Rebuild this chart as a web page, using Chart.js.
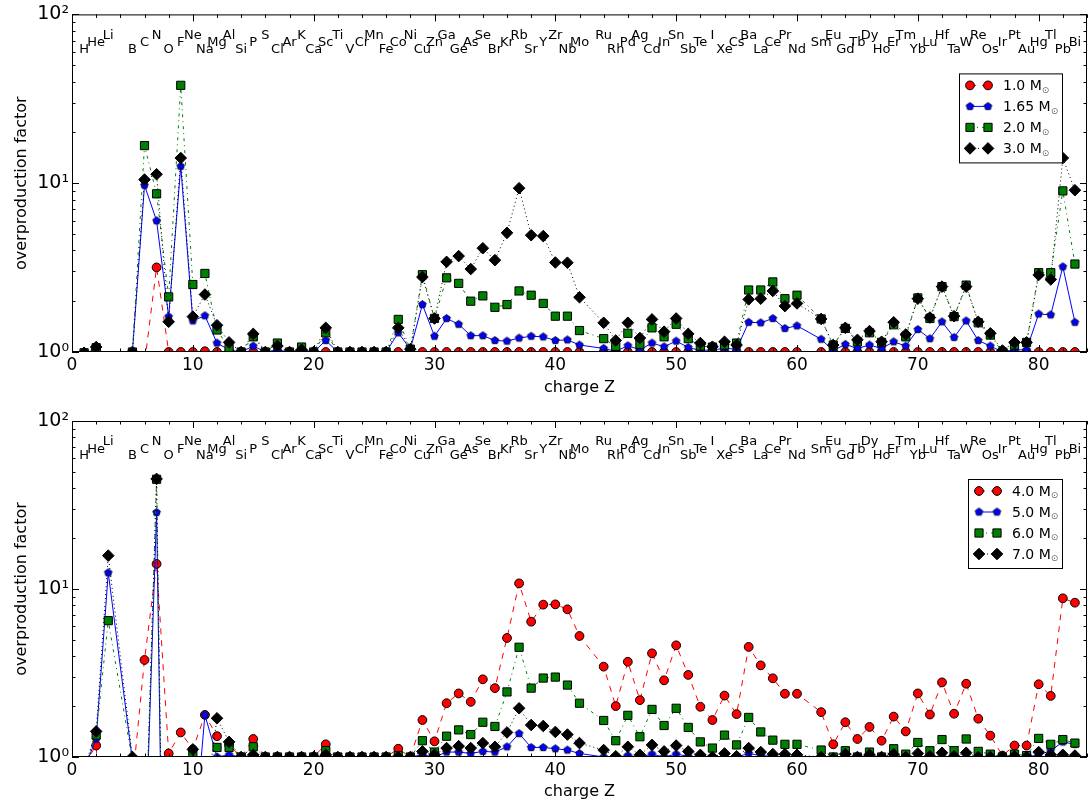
<!DOCTYPE html>
<html lang="en">
<head>
<meta charset="UTF-8">
<title>Overproduction factors</title>
<script src="https://cdn.jsdelivr.net/npm/chart.js"></script>
<style>
  * { margin: 0; padding: 0; }
  body { background: #fff; width: 1088px; height: 808px; overflow: hidden; position: relative; }
  canvas { position: absolute; left: 0; }
  #chartTop { top: 0; }
  #chartBottom { top: 404px; }
</style>
</head>
<body>
<canvas id="chartTop" width="1088" height="404"></canvas>
<canvas id="chartBottom" width="1088" height="404"></canvas>
<script>
// element symbols and their charge Z (Be, Tc and Pm are not in the network output)
const elements = ['H','He','Li','B','C','N','O','F','Ne','Na',
  'Mg','Al','Si','P','S','Cl','Ar','K','Ca','Sc',
  'Ti','V','Cr','Mn','Fe','Co','Ni','Cu','Zn','Ga',
  'Ge','As','Se','Br','Kr','Rb','Sr','Y','Zr','Nb',
  'Mo','Ru','Rh','Pd','Ag','Cd','In','Sn','Sb','Te',
  'I','Xe','Cs','Ba','La','Ce','Pr','Nd','Sm','Eu',
  'Gd','Tb','Dy','Ho','Er','Tm','Yb','Lu','Hf','Ta',
  'W','Re','Os','Ir','Pt','Au','Hg','Tl','Pb','Bi'];
const charge = [1,2,3,5,6,7,8,9,10,11,
  12,13,14,15,16,17,18,19,20,21,
  22,23,24,25,26,27,28,29,30,31,
  32,33,34,35,36,37,38,39,40,41,
  42,44,45,46,47,48,49,50,51,52,
  53,54,55,56,57,58,59,60,62,63,
  64,65,66,67,68,69,70,71,72,73,
  74,75,76,77,78,79,80,81,82,83];

// low-mass models
const massesTop = ['1.0', '1.65', '2.0', '3.0'];
const m10 = [0.99,1.02,0.001,0.5,0.85,3.17,1.0,1.0,1.0,1.01,
  1.0,1.0,1.0,1.0,1.0,1.0,1.0,1.0,1.0,1.0,
  1.0,1.0,1.0,1.0,1.0,1.0,1.0,1.0,1.0,1.0,
  1.0,1.0,1.0,1.0,1.0,1.0,1.0,1.0,1.0,1.0,
  1.0,1.0,1.0,1.0,1.0,1.0,1.0,1.0,1.0,1.0,
  1.0,1.0,1.0,1.0,1.0,1.0,1.0,1.0,1.0,1.0,
  1.0,1.0,1.0,1.0,1.0,1.0,1.0,1.0,1.0,1.0,
  1.0,1.0,1.0,1.0,1.0,1.0,1.0,1.0,1.0,1.0];
const m165 = [0.99,1.03,0.001,1.0,9.73,5.99,1.62,12.6,1.53,1.64,
  1.13,1.03,1.0,1.085,1.0,1.03,1.0,1.03,1.0,1.17,
  1.0,1.0,1.0,1.0,1.0,1.30,1.04,1.91,1.24,1.58,
  1.46,1.25,1.25,1.17,1.16,1.21,1.24,1.23,1.17,1.18,
  1.10,1.05,1.01,1.09,1.03,1.13,1.075,1.16,1.065,1.02,
  1.03,1.05,1.04,1.50,1.49,1.58,1.38,1.43,1.19,1.02,
  1.11,1.05,1.10,1.05,1.15,1.085,1.36,1.20,1.51,1.22,
  1.53,1.17,1.085,1.0,1.03,1.03,1.68,1.66,3.20,1.50];
const m20 = [0.99,1.06,0.001,1.0,16.7,8.65,2.12,38.0,2.51,2.92,
  1.35,1.05,1.0,1.23,1.0,1.13,1.0,1.07,1.0,1.30,
  1.0,1.0,1.0,1.0,1.0,1.56,1.04,2.87,1.58,2.75,
  2.55,2.00,2.15,1.84,1.91,2.30,2.17,1.94,1.63,1.63,
  1.34,1.20,1.08,1.29,1.11,1.39,1.23,1.46,1.20,1.085,
  1.07,1.10,1.13,2.33,2.33,2.60,2.07,2.17,1.57,1.10,
  1.38,1.15,1.30,1.14,1.45,1.23,2.09,1.58,2.44,1.62,
  2.49,1.49,1.26,1.0,1.10,1.14,2.95,2.95,9.0,3.32];
const m30 = [0.99,1.07,0.001,1.0,10.5,11.3,1.51,14.1,1.62,2.19,
  1.44,1.14,1.0,1.28,1.0,1.085,1.0,1.03,1.0,1.39,
  1.0,1.0,1.0,1.0,1.0,1.39,1.04,2.78,1.58,3.42,
  3.70,3.10,4.12,3.50,5.08,9.34,4.92,4.86,3.39,3.38,
  2.11,1.49,1.17,1.49,1.21,1.56,1.32,1.58,1.28,1.13,
  1.075,1.15,1.10,2.05,2.07,2.30,1.87,1.94,1.57,1.10,
  1.39,1.18,1.33,1.15,1.50,1.27,2.07,1.60,2.44,1.63,
  2.44,1.51,1.29,1.02,1.14,1.14,2.86,2.69,14.1,9.09];

// intermediate-mass models
const massesBottom = ['4.0', '5.0', '6.0', '7.0'];
const m40 = [0.9,1.17,0.05,0.7,3.78,14.1,1.05,1.40,1.11,1.78,
  1.33,1.18,1.0,1.28,1.0,1.0,1.0,1.0,1.0,1.19,
  1.0,1.0,1.0,1.0,1.0,1.12,1.0,1.66,1.24,2.09,
  2.39,2.13,2.90,2.57,5.11,10.8,6.39,8.07,8.10,7.57,
  5.25,3.45,2.01,3.69,2.18,4.14,2.86,4.62,3.08,1.99,
  1.66,2.32,1.80,4.52,3.51,2.94,2.38,2.38,1.85,1.19,
  1.61,1.28,1.51,1.25,1.74,1.42,2.39,1.79,2.78,1.81,
  2.73,1.69,1.34,1.02,1.17,1.17,2.71,2.31,8.80,8.29];
const m50 = [0.85,1.28,12.5,0.95,0.2,28.6,0.0005,0.0005,0.26,1.78,
  1.0,1.03,1.0,1.0,1.0,1.0,1.0,1.0,1.0,1.02,
  1.0,1.0,1.0,1.0,1.0,1.0,1.0,1.03,1.0,1.07,
  1.07,1.05,1.08,1.07,1.15,1.38,1.14,1.14,1.12,1.10,
  1.05,1.0,1.0,1.02,1.0,1.04,1.0,1.04,1.01,1.0,
  1.0,1.01,1.0,1.05,1.02,1.01,1.01,1.01,1.0,1.0,
  1.0,1.0,1.0,1.0,1.0,1.0,1.0,1.0,1.0,1.0,
  1.0,1.0,1.0,1.0,1.0,1.0,1.03,1.09,1.23,1.19];
const m60 = [0.85,1.35,6.48,0.95,0.2,45.0,0.0005,0.0005,1.03,0.5,
  1.14,1.14,1.0,1.15,1.0,1.0,1.0,1.0,1.0,1.09,
  1.0,1.0,1.0,1.0,1.0,1.02,1.0,1.25,1.07,1.33,
  1.45,1.36,1.61,1.52,2.44,4.50,2.57,2.95,2.99,2.68,
  2.09,1.65,1.25,1.77,1.32,1.92,1.54,1.95,1.50,1.23,
  1.13,1.35,1.18,1.72,1.41,1.26,1.19,1.19,1.10,1.0,
  1.09,1.0,1.07,1.0,1.12,1.04,1.22,1.09,1.27,1.09,
  1.28,1.08,1.04,1.0,1.04,1.02,1.29,1.19,1.27,1.21];
const m70 = [0.85,1.42,15.8,1.0,0.2,45.2,0.0005,0.0005,1.11,0.5,
  1.70,1.23,1.0,1.03,1.0,1.0,1.0,1.0,1.0,1.03,
  1.0,1.0,1.0,1.0,1.0,1.0,1.0,1.08,1.03,1.13,
  1.16,1.13,1.21,1.15,1.40,1.95,1.55,1.53,1.41,1.36,
  1.21,1.10,1.01,1.15,1.03,1.18,1.08,1.17,1.08,1.03,
  1.0,1.05,1.01,1.13,1.07,1.04,1.04,1.03,1.0,0.98,
  1.04,1.0,1.03,1.0,1.04,1.0,1.05,1.01,1.06,1.01,
  1.06,1.0,1.0,1.0,1.01,1.0,1.07,1.03,1.03,1.02];

// rows of the element symbols along the top, in data units
const symbolRows = [62, 68, 75];

const FONT = '"DejaVu Sans", "Bitstream Vera Sans", sans-serif';
Chart.defaults.font.family = FONT;
Chart.defaults.color = '#000';

function pentagon(color, r) {
  const c = document.createElement('canvas');
  const s = Math.ceil(2 * r + 3);
  c.width = c.height = s;
  const g = c.getContext('2d');
  g.beginPath();
  for (let k = 0; k < 5; k++) {
    const a = -Math.PI / 2 + k * 2 * Math.PI / 5;
    const px = s / 2 + r * Math.cos(a), py = s / 2 + r * Math.sin(a);
    if (k) g.lineTo(px, py); else g.moveTo(px, py);
  }
  g.closePath();
  g.fillStyle = color;
  g.fill();
  g.lineWidth = 0.8;
  g.strokeStyle = '#000';
  g.stroke();
  return c;
}

// line and marker style per series slot (same in both panels)
const styles = [
  { color: '#ff0000', dash: [6, 6], point: 'circle', radius: 4.4 },
  { color: '#0000ff', dash: [], point: pentagon('#0000ff', 4), radius: 4 },
  { color: '#008000', dash: [3, 4, 1, 4], point: 'rect', radius: 5.8 },
  { color: '#000000', dash: [1, 3], point: 'rectRot', radius: 5.8 }
];

function makeDatasets(series) {
  return series.map((vals, i) => ({
    data: charge.map((z, k) => ({ x: z, y: vals[k] })),
    borderColor: styles[i].color,
    borderWidth: 1,
    borderDash: styles[i].dash,
    pointStyle: styles[i].point,
    pointRadius: styles[i].radius,
    pointBackgroundColor: styles[i].color,
    pointBorderColor: '#000',
    pointBorderWidth: 1,
    tension: 0,
    fill: false,
    order: 4 - i
  }));
}

function logLabel(v) {
  if (v === 1) return '10\u2070';
  if (v === 10) return '10\u00b9';
  if (v === 100) return '10\u00b2';
  return '';
}

// frame, inward ticks, element symbols and legend
const decorations = {
  id: 'decorations',
  afterDraw(chart, args, opts) {
    const { ctx, chartArea: a } = chart;
    const xs = chart.scales.x, ys = chart.scales.y;
    ctx.save();
    ctx.strokeStyle = '#000';
    ctx.lineWidth = 1;
    ctx.strokeRect(a.left + 0.5, a.top + 0.5, a.right - a.left - 1, a.bottom - a.top - 1);

    ctx.beginPath();
    for (let v = 0; v <= 84; v += 2) {
      const px = Math.round(xs.getPixelForValue(v)) + 0.5;
      const len = v % 10 === 0 ? 7 : 3.5;
      ctx.moveTo(px, a.bottom); ctx.lineTo(px, a.bottom - len);
      ctx.moveTo(px, a.top); ctx.lineTo(px, a.top + len);
    }
    for (let d = 1; d <= 100; d *= 10) {
      for (let m = 1; m <= 9; m++) {
        const v = d * m;
        if (v > 100) break;
        const py = Math.round(ys.getPixelForValue(v)) + 0.5;
        const len = m === 1 ? 7 : 3.5;
        ctx.moveTo(a.left, py); ctx.lineTo(a.left + len, py);
        ctx.moveTo(a.right, py); ctx.lineTo(a.right - len, py);
      }
    }
    ctx.stroke();

    // element symbols
    ctx.fillStyle = '#000';
    ctx.font = '13px ' + FONT;
    ctx.textAlign = 'center';
    ctx.textBaseline = 'middle';
    elements.forEach((el, i) => {
      ctx.fillText(el, xs.getPixelForValue(charge[i]), ys.getPixelForValue(symbolRows[i % 3]));
    });

    // legend
    ctx.font = '14px ' + FONT;
    ctx.textAlign = 'left';
    const tw = Math.max(...opts.masses.map(m => ctx.measureText(m + ' M').width));
    const w = Math.round(44 + tw + 11), h = 89;
    const x0 = Math.round(a.right - 25 - w), y0 = a.top + opts.top;
    ctx.fillStyle = '#fff';
    ctx.fillRect(x0, y0, w, h);
    ctx.strokeRect(x0 + 0.5, y0 + 0.5, w, h);
    chart.data.datasets.forEach((ds, i) => {
      const y = y0 + 12 + i * 21;
      ctx.setLineDash(ds.borderDash);
      ctx.strokeStyle = ds.borderColor;
      ctx.beginPath();
      ctx.moveTo(x0 + 11, y); ctx.lineTo(x0 + 29, y);
      ctx.stroke();
      ctx.setLineDash([]);
      [x0 + 11, x0 + 29].forEach(px => {
        ctx.fillStyle = ds.pointBackgroundColor;
        ctx.strokeStyle = '#000';
        ctx.lineWidth = 1;
        Chart.helpers.drawPoint(ctx, { pointStyle: ds.pointStyle, radius: ds.pointRadius, rotation: 0, borderWidth: 1 }, px, y);
      });
      ctx.fillStyle = '#000';
      ctx.font = '14px ' + FONT;
      const txt = opts.masses[i] + ' M';
      ctx.fillText(txt, x0 + 44, y + 1);
      const tx = x0 + 44 + ctx.measureText(txt).width;
      ctx.font = '9px ' + FONT;
      ctx.fillStyle = '#666';
      ctx.fillText('\u2299', tx, y + 5);
    });
    ctx.restore();
  }
};

function makeChart(id, series, masses, padTop, xHeight, legendTop) {
  return new Chart(document.getElementById(id), {
    type: 'line',
    data: { datasets: makeDatasets(series) },
    options: {
      responsive: false,
      animation: false,
      devicePixelRatio: 1,
      events: [],
      layout: { autoPadding: false, padding: { left: 0, right: 1, top: padTop, bottom: 0 } },
      plugins: {
        legend: { display: false },
        tooltip: { enabled: false },
        decorations: { masses: masses, top: legendTop }
      },
      scales: {
        x: {
          type: 'linear', min: 0, max: 84,
          grid: { display: false, drawTicks: false },
          border: { display: false },
          ticks: { stepSize: 10, includeBounds: false, padding: 3, font: { size: 17 }, color: '#000' },
          title: { display: true, text: 'charge Z', font: { size: 16 }, color: '#000', padding: { top: 0, bottom: 7 } },
          afterFit(s) { s.height = xHeight; }
        },
        y: {
          type: 'logarithmic', min: 1, max: 100,
          grid: { display: false, drawTicks: false },
          border: { display: false },
          ticks: { autoSkip: false, padding: 3, font: { size: 19 }, color: '#000', callback: logLabel },
          title: { display: true, text: 'overproduction factor', font: { size: 16 }, color: '#000', padding: { top: 12, bottom: 0 } },
          afterFit(s) { s.width = 72; }
        }
      }
    },
    plugins: [decorations]
  });
}

makeChart('chartTop', [m10, m165, m20, m30], massesTop, 14, 52, 59);
makeChart('chartBottom', [m40, m50, m60, m70], massesBottom, 17, 51, 58);
</script>
</body>
</html>
